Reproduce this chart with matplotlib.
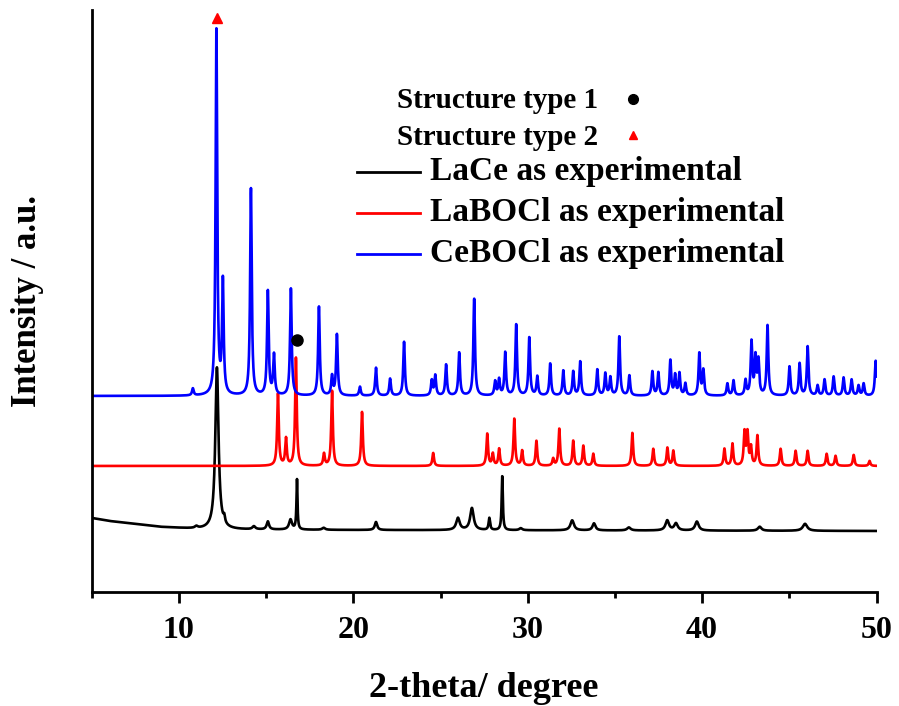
import numpy as np
import matplotlib.pyplot as plt
from matplotlib.ticker import MultipleLocator

plt.rcParams['font.family'] = ['Liberation Serif', 'DejaVu Serif']
plt.rcParams['font.weight'] = 'bold'

# peak positions (2-theta) and heights
ce_pos = [10.80, 12.15, 12.52, 14.13, 15.10, 15.45, 16.42, 18.03, 18.78, 19.06,
          20.38, 21.30, 22.11, 22.91, 24.50, 24.70, 25.32, 26.07, 26.93, 28.13,
          28.36, 28.71, 29.34, 30.09, 30.55, 31.29, 32.04, 32.61, 33.01, 33.99,
          34.45, 34.74, 35.25, 35.83, 37.15, 37.49, 38.18, 38.45, 38.70, 39.04,
          39.84, 40.07, 41.45, 41.80, 42.49, 42.83, 43.06, 43.23, 43.75, 45.01,
          45.59, 46.05, 46.62, 47.02, 47.54, 48.11, 48.57, 48.97, 49.26, 49.95]
ce_h = [7, 365, 112, 207, 104, 40, 107, 89, 19, 61,
        9, 28, 17, 54, 15, 20, 31, 43, 97, 14,
        16, 43, 71, 58, 19, 32, 25, 24, 34, 26,
        22, 18, 59, 20, 24, 23, 35, 20, 22, 12,
        42, 25, 12, 15, 15, 53, 37, 34, 70, 29,
        32, 49, 10, 16, 19, 18, 16, 10, 12, 35]

la_pos = [15.68, 16.14, 16.71, 18.32, 18.78, 20.50, 24.58, 27.68, 28.00, 28.36,
          29.23, 29.68, 30.50, 31.46, 31.81, 32.61, 33.19, 33.76, 36.00, 37.20,
          38.01, 38.35, 41.28, 41.74, 42.43, 42.60, 42.80, 43.17, 44.50, 45.36,
          46.05, 47.14, 47.65, 48.69, 49.60]
la_h = [72, 27, 108, 12, 75, 54, 13, 32, 12, 17,
        47, 15, 25, 7, 37, 25, 20, 12, 33, 17,
        18, 15, 17, 22, 33, 32, 18, 30, 17, 15,
        15, 12, 10, 11, 5]

lace_pos = [11.00, 12.18, 12.60, 14.30, 15.10, 16.40, 16.77, 18.30, 21.30, 26.00,
            26.80, 27.80, 28.54, 29.60, 32.55, 33.80, 35.80, 38.00, 38.50, 39.70,
            43.30, 45.90]
lace_h = [2, 162, 6, 3, 8, 10, 50, 2, 8, 12,
          22, 12, 54, 2, 10, 7, 3, 10, 7, 9,
          4, 7]
lace_w = [0.1, 0.11, 0.05, 0.1, 0.08, 0.1, 0.035, 0.1, 0.08, 0.12,
          0.12, 0.05, 0.04, 0.1, 0.12, 0.1, 0.12, 0.12, 0.12, 0.12,
          0.12, 0.15]
# amorphous background of the LaCe sample
lace_bg_x = [5, 6, 7, 8, 9, 10, 11, 12, 20, 50]
lace_bg_y = [12, 9, 7, 5, 3, 2, 1, 0.5, 0, -1]

# stacking offsets of the three curves
offsets = {'lace': 62, 'la': 126, 'ce': 196}

# structure type markers
type1_x = [16.77]
type1_y = [252]
type2_x = [12.2]
type2_y = [574]


def pattern(x, pos, h, w):
    y = np.zeros_like(x)
    w = np.broadcast_to(w, len(pos))
    for p, a, g in zip(pos, h, w):
        y += a / (1 + ((x - p) / g) ** 2)
    return y


x = np.linspace(5, 50, 9000)
ce = pattern(x, ce_pos, ce_h, 0.055) + offsets['ce']
la = pattern(x, la_pos, la_h, 0.055) + offsets['la']
lace = pattern(x, lace_pos, lace_h, lace_w) + np.interp(x, lace_bg_x, lace_bg_y) + offsets['lace']

fig = plt.figure(figsize=(8.99, 7.06), dpi=100)
ax = fig.add_axes([0.102, 0.1615, 0.873, 0.8245])

ax.plot(x, lace, color='black', lw=1.9)
ax.plot(x, la, color='#ff0000', lw=1.9)
ax.plot(x, ce, color='#0000ff', lw=1.9)
ax.plot(type1_x, type1_y, 'o', color='black', ms=8)
ax.plot(type2_x, type2_y, '^', color='#ff0000', ms=7)

ax.set_xlim(5, 50)
ax.set_ylim(0, 582)
ax.xaxis.set_major_locator(MultipleLocator(10))
ax.xaxis.set_minor_locator(MultipleLocator(5))
ax.set_yticks([])
for s in ['top', 'right']:
    ax.spines[s].set_visible(False)
for s in ['left', 'bottom']:
    ax.spines[s].set_linewidth(2)
ax.tick_params(axis='x', which='major', length=8, width=2, labelsize=23, pad=9)
ax.tick_params(axis='x', which='minor', length=4.5, width=2)

ax.set_xlabel('2-theta/ degree', fontsize=26, fontweight='bold', labelpad=20)
ax.set_ylabel('Intensity / a.u.', fontsize=25, fontweight='bold', labelpad=34)

# legend drawn by hand to follow the original layout
ax.text(0.389, 0.845, 'Structure type 1', transform=ax.transAxes, fontsize=21,
        va='center', ha='left')
ax.text(0.389, 0.780, 'Structure type 2', transform=ax.transAxes, fontsize=21,
        va='center', ha='left')
ax.plot([0.690], [0.847], 'o', color='black', ms=7, transform=ax.transAxes)
ax.plot([0.690], [0.785], '^', color='#ff0000', ms=6, transform=ax.transAxes)

names = ['LaCe as experimental', 'LaBOCl as experimental', 'CeBOCl as experimental']
colors = ['black', '#ff0000', '#0000ff']
for i, (n, c) in enumerate(zip(names, colors)):
    yy = 0.722 - i * 0.0705
    ax.plot([0.338, 0.418], [yy, yy], color=c, lw=2, transform=ax.transAxes)
    ax.text(0.431, yy, n, transform=ax.transAxes, fontsize=24, va='center', ha='left')

fig.savefig('out.png', dpi=100)
